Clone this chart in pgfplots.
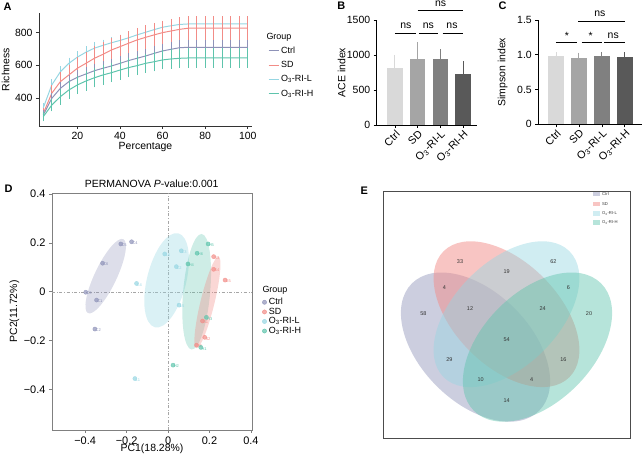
\documentclass[border=0pt]{standalone}
\usepackage{fontspec}
\setmainfont{Liberation Sans}
\usepackage{pgfplots}
\pgfplotsset{compat=1.18}
\usepackage{pgfplotstable}

\definecolor{cctrl}{RGB}{142,146,184}
\definecolor{csd}{RGB}{242,140,135}
\definecolor{cril}{RGB}{150,214,226}
\definecolor{crih}{RGB}{94,196,172}
\definecolor{b1}{RGB}{217,217,217}
\definecolor{b2}{RGB}{165,165,165}
\definecolor{b3}{RGB}{128,128,128}
\definecolor{b4}{RGB}{89,89,89}
\definecolor{axgray}{RGB}{128,128,128}

\newcommand{\fs}[1]{\fontsize{#1}{#1}\selectfont}
\newcommand{\Othree}{O\textsubscript{3}}

\pgfplotsset{
  myax/.style={scale only axis, anchor=south west,
    /pgf/number format/assume math mode=true,
    /pgf/number format/1000 sep={},
    tick label style={font=\fs{10.5}},
    label style={font=\fs{10.5}},
    tick align=outside, major tick length=3bp,
    clip=false},
}

\pgfplotstableread{
x ctrl ectrl sd esd ril eril rih erih
4 296 15 306 20 340 15 286 15
8 398 20 429 35 480 20 357 25
12 459 25 500 45 560 22 408 35
16 500 25 541 50 612 22 449 40
20 527 28 582 55 650 22 480 42
24 547 28 612 58 680 22 504 45
28 567 30 643 60 705 22 524 45
32 582 30 667 60 722 22 541 45
36 596 30 694 60 738 22 555 45
40 612 30 714 60 752 22 571 45
44 629 30 735 60 768 22 586 45
48 643 30 755 60 786 22 598 45
52 657 30 771 60 802 22 612 45
56 673 32 786 60 818 22 622 45
60 688 32 800 60 833 22 633 45
64 698 32 810 60 842 22 639 45
68 708 32 820 60 850 22 643 45
72 710 32 827 60 853 22 645 45
76 710 32 827 60 853 22 645 45
80 710 32 827 60 853 22 645 45
84 710 32 827 60 853 22 645 45
88 710 32 827 60 853 22 645 45
92 710 32 827 60 853 22 645 45
96 710 32 827 60 853 22 645 45
100 710 32 827 60 853 22 645 45
}\rarefy

\pgfplotstableread{
x y lab
-0.228 0.196 C5
-0.176 0.205 C4
-0.316 0.117 C6
-0.397 -0.002 C3
-0.345 -0.034 C1
-0.353 -0.153 C2
}\pcactrl
\pgfplotstableread{
x y lab
0.220 0.144 S3
0.220 0.092 S4
0.275 0.048 S5
0.166 -0.120 S1
0.177 -0.187 S2
0.137 -0.219 S6
}\pcasd
\pgfplotstableread{
x y lab
-0.152 0.034 L4
-0.016 0.155 L6
0.064 0.168 L3
0.040 0.103 L2
0.053 -0.055 L5
-0.160 -0.356 L1
}\pcaril
\pgfplotstableread{
x y lab
0.193 0.196 H5
0.140 0.158 H6
0.096 0.114 H4
0.185 -0.105 H3
0.158 -0.228 H1
0.024 -0.301 H2
}\pcarih

\begin{document}
\begin{tikzpicture}
\path[use as bounding box] (0,0) rectangle (644bp,454bp);

% panel letters
\node[font=\fs{11}\bfseries] at (7.5bp,447.5bp) {A};
\node[font=\fs{11}\bfseries] at (341.3bp,448.5bp) {B};
\node[font=\fs{11}\bfseries] at (502.5bp,448.5bp) {C};
\node[font=\fs{11}\bfseries] at (8.7bp,265.2bp) {D};
\node[font=\fs{11}\bfseries] at (364.2bp,263.5bp) {E};

% ---------------- A ----------------
\begin{axis}[myax, at={(39bp,328bp)}, width=213bp, height=113bp,
  xmin=2, xmax=102, ymin=229, ymax=920,
  axis x line*=bottom, axis y line*=left,
  axis line style={-, black!80, line width=0.7pt}, tick style={black!80, line width=0.7pt},
  xtick={20,40,60,80,100}, ytick={400,600,800},
  xlabel={Percentage}, ylabel={Richness},
  xlabel style={at={(axis description cs:0.5,-0.183)}, anchor=center},
  ylabel style={at={(axis description cs:-0.157,0.5)}, anchor=center},
  legend image code/.code={\draw[#1] (0bp,0bp) -- (10bp,0bp);},
  legend style={at={(axis description cs:1.075,0.72)}, anchor=north west, draw=none, fill=none,
    font=\fs{9}, row sep=2.5bp, inner sep=0pt},
  legend cell align=left,
]
\addplot[cril, line width=1pt, forget plot, error bars/.cd, y dir=both, y explicit,
  error bar style={line width=0.6pt}, error mark options={mark size=2.2bp, line width=0.6pt}]
  table[x=x, y=ril, y error=eril]{\rarefy};
\addplot[csd, line width=1pt, forget plot, error bars/.cd, y dir=both, y explicit,
  error bar style={line width=0.6pt}, error mark options={mark size=2.2bp, line width=0.6pt}]
  table[x=x, y=sd, y error=esd]{\rarefy};
\addplot[cctrl, line width=1pt, forget plot, error bars/.cd, y dir=both, y explicit,
  error bar style={line width=0.6pt}, error mark options={mark size=2.2bp, line width=0.6pt}]
  table[x=x, y=ctrl, y error=ectrl]{\rarefy};
\addplot[crih, line width=1pt, forget plot, error bars/.cd, y dir=both, y explicit,
  error bar style={line width=0.6pt}, error mark options={mark size=2.2bp, line width=0.6pt}]
  table[x=x, y=rih, y error=erih]{\rarefy};
\addlegendimage{cctrl, line width=1pt}\addlegendentry{Ctrl}
\addlegendimage{csd, line width=1pt}\addlegendentry{SD}
\addlegendimage{cril, line width=1pt}\addlegendentry{\Othree-RI-L}
\addlegendimage{crih, line width=1pt}\addlegendentry{\Othree-RI-H}
\end{axis}
\node[anchor=west, font=\fs{9}] at (263bp,417bp) {Group};

% ---------------- B ----------------
\begin{axis}[myax, at={(376.7bp,329bp)}, width=100bp, height=105bp,
  xmin=-0.806, xmax=3.6, ymin=0, ymax=1500,
  axis x line*=bottom, axis y line*=left,
  axis line style={-, black, line width=0.9pt}, tick style={black, line width=0.9pt},
  ytick={0,500,1000,1500}, xtick={0,1,2,3},
  xticklabels={Ctrl,SD,\Othree-RI-L,\Othree-RI-H},
  xticklabel style={rotate=45, anchor=north east, font=\fs{10.8}, inner sep=1pt},
  ylabel={ACE index},
  ylabel style={at={(axis description cs:-0.35,0.5)}, anchor=center},
  ybar, bar width=15.3bp,
]
\addplot[fill=b1, draw=none, bar shift=0pt, error bars/.cd, y dir=plus, y explicit,
  error bar style={draw=b1, line width=1pt}, error mark options={draw=b1, mark size=3.3bp, line width=1pt}]
  coordinates {(0,810) +- (0,143)};
\addplot[fill=b2, draw=none, bar shift=0pt, error bars/.cd, y dir=plus, y explicit,
  error bar style={draw=b2, line width=1pt}, error mark options={draw=b2, mark size=3.3bp, line width=1pt}]
  coordinates {(1,940) +- (0,200)};
\addplot[fill=b3, draw=none, bar shift=0pt, error bars/.cd, y dir=plus, y explicit,
  error bar style={draw=b3, line width=1pt}, error mark options={draw=b3, mark size=3.3bp, line width=1pt}]
  coordinates {(2,940) +- (0,95)};
\addplot[fill=b4, draw=none, bar shift=0pt, error bars/.cd, y dir=plus, y explicit,
  error bar style={draw=b4, line width=1pt}, error mark options={draw=b4, mark size=3.3bp, line width=1pt}]
  coordinates {(3,725) +- (0,140)};
\draw[line width=0.8pt] (axis cs:0,1310) -- (axis cs:0.93,1310);
\draw[line width=0.8pt] (axis cs:1.05,1310) -- (axis cs:1.9,1310);
\draw[line width=0.8pt] (axis cs:2.1,1310) -- (axis cs:3.0,1310);
\draw[line width=0.8pt] (axis cs:1.0,1633) -- (axis cs:3.0,1633);
\node[font=\fs{10.5}] at (axis cs:0.48,1414) {ns};
\node[font=\fs{10.5}] at (axis cs:1.47,1414) {ns};
\node[font=\fs{10.5}] at (axis cs:2.51,1414) {ns};
\node[font=\fs{10.5}] at (axis cs:2.01,1729) {ns};
\end{axis}

% ---------------- C ----------------
\begin{axis}[myax, at={(538.3bp,329.7bp)}, width=103.4bp, height=104.3bp,
  xmin=-0.77, xmax=3.73, ymin=0, ymax=1.5,
  axis x line*=bottom, axis y line*=left,
  axis line style={-, black, line width=0.9pt}, tick style={black, line width=0.9pt},
  ytick={0,0.5,1,1.5}, yticklabels={0,0.5,1.0,1.5}, xtick={0,1,2,3},
  xticklabels={Ctrl,SD,\Othree-RI-L,\Othree-RI-H},
  xticklabel style={rotate=45, anchor=north east, font=\fs{10.8}, inner sep=1pt},
  ylabel={Simpson index},
  ylabel style={at={(axis description cs:-0.344,0.5)}, anchor=center},
  ybar, bar width=16.5bp,
]
\addplot[fill=b1, draw=none, bar shift=0pt, error bars/.cd, y dir=plus, y explicit,
  error bar style={draw=b1, line width=1pt}, error mark options={draw=b1, mark size=3.3bp, line width=1pt}]
  coordinates {(0,0.985) +- (0,0.005)};
\addplot[fill=b2, draw=none, bar shift=0pt, error bars/.cd, y dir=plus, y explicit,
  error bar style={draw=b2, line width=1pt}, error mark options={draw=b2, mark size=3.3bp, line width=1pt}]
  coordinates {(1,0.96) +- (0,0.025)};
\addplot[fill=b3, draw=none, bar shift=0pt, error bars/.cd, y dir=plus, y explicit,
  error bar style={draw=b3, line width=1pt}, error mark options={draw=b3, mark size=3.3bp, line width=1pt}]
  coordinates {(2,0.983) +- (0,0.01)};
\addplot[fill=b4, draw=none, bar shift=0pt, error bars/.cd, y dir=plus, y explicit,
  error bar style={draw=b4, line width=1pt}, error mark options={draw=b4, mark size=3.3bp, line width=1pt}]
  coordinates {(3,0.968) +- (0,0.02)};
\draw[line width=0.8pt] (axis cs:0,1.172) -- (axis cs:0.93,1.172);
\draw[line width=0.8pt] (axis cs:1.12,1.172) -- (axis cs:1.99,1.172);
\draw[line width=0.8pt] (axis cs:2.09,1.172) -- (axis cs:3.0,1.172);
\draw[line width=0.8pt] (axis cs:0.96,1.48) -- (axis cs:3.0,1.48);
\node[font=\fs{10.5}] at (axis cs:0.47,1.27) {*};
\node[font=\fs{10.5}] at (axis cs:1.51,1.27) {*};
\node[font=\fs{10.5}] at (axis cs:2.49,1.269) {ns};
\node[font=\fs{10.5}] at (axis cs:1.91,1.595) {ns};
\end{axis}

% ---------------- D ----------------
\node[font=\fs{10.5}] at (151.7bp,270.7bp) {PERMANOVA \textit{P}-value:0.001};
\begin{axis}[myax, at={(52bp,24bp)}, width=200bp, height=237bp,
  xmin=-0.56, xmax=0.405, ymin=-0.567, ymax=0.405,
  axis line style={axgray, line width=0.8pt}, tick style={axgray, line width=0.8pt},
  xtick={-0.4,-0.2,0,0.2,0.4}, ytick={-0.4,-0.2,0,0.2,0.4},
  xticklabels={−0.4,−0.2,0,0.2,0.4}, yticklabels={−0.4,−0.2,0,0.2,0.4},
  tick label style={font=\fs{11}},
  xtick pos=bottom, ytick pos=left,
  xlabel={PC1(18.28\%)}, ylabel={PC2(11.72\%)},
  xlabel style={at={(axis description cs:0.5,-0.080)}, anchor=center},
  ylabel style={at={(axis description cs:-0.1875,0.5)}, anchor=center},
  legend image code/.code={\fill[#1] (2bp,0bp) circle[radius=2.1bp];},
  legend style={at={(axis description cs:1.05,0.565)}, anchor=north west, draw=none, fill=none,
    font=\fs{9}, row sep=-2.2bp, inner sep=0pt},
  legend cell align=left,
  point meta=explicit symbolic,
]
\addplot[gray!70, dash dot, line width=0.4pt, forget plot] coordinates {(0,-0.567) (0,0.405)};
\addplot[gray!70, dash dot, line width=0.4pt, forget plot] coordinates {(-0.56,0) (0.405,0)};
\fill[cctrl, fill opacity=0.3] (axis cs:-0.301,0.064) circle[x radius=41bp, y radius=11bp, rotate=64.5];
\fill[cril, fill opacity=0.35] (axis cs:-0.007,0.047) circle[x radius=48.4bp, y radius=19.6bp, rotate=76];
\fill[crih, fill opacity=0.3] (axis cs:0.138,0.0) circle[x radius=58bp, y radius=13.5bp, rotate=85];
\fill[csd, fill opacity=0.35] (axis cs:0.190,-0.044) circle[x radius=47.1bp, y radius=7bp, rotate=76.3];
\addplot[only marks, mark=*, mark size=2.1bp, color=cctrl, fill opacity=0.7, draw opacity=0.7, forget plot,
  nodes near coords, nodes near coords style={anchor=west, font=\fs{4}, text=cctrl, inner sep=0.6pt, yshift=-1.3bp, opacity=1}]
  table[x=x, y=y, meta=lab]{\pcactrl};
\addplot[only marks, mark=*, mark size=2.1bp, color=csd, fill opacity=0.7, draw opacity=0.7, forget plot,
  nodes near coords, nodes near coords style={anchor=west, font=\fs{4}, text=csd, inner sep=0.6pt, yshift=-1.3bp, opacity=1}]
  table[x=x, y=y, meta=lab]{\pcasd};
\addplot[only marks, mark=*, mark size=2.1bp, color=cril, fill opacity=0.7, draw opacity=0.7, forget plot,
  nodes near coords, nodes near coords style={anchor=west, font=\fs{4}, text=cril, inner sep=0.6pt, yshift=-1.3bp, opacity=1}]
  table[x=x, y=y, meta=lab]{\pcaril};
\addplot[only marks, mark=*, mark size=2.1bp, color=crih, fill opacity=0.7, draw opacity=0.7, forget plot,
  nodes near coords, nodes near coords style={anchor=west, font=\fs{4}, text=crih, inner sep=0.6pt, yshift=-1.3bp, opacity=1}]
  table[x=x, y=y, meta=lab]{\pcarih};
\addlegendimage{cctrl, fill opacity=0.7}\addlegendentry{Ctrl}
\addlegendimage{csd, fill opacity=0.7}\addlegendentry{SD}
\addlegendimage{cril, fill opacity=0.7}\addlegendentry{\Othree-RI-L}
\addlegendimage{crih, fill opacity=0.7}\addlegendentry{\Othree-RI-H}
\end{axis}
\node[anchor=west, font=\fs{9}] at (259bp,164bp) {Group};

% ---------------- E ----------------
\begin{axis}[myax, at={(383.3bp,15.7bp)}, width=246.7bp, height=247.3bp,
  xmin=383.3, xmax=630, ymin=15.7, ymax=263,
  xtick=\empty, ytick=\empty,
  axis line style={black!70, line width=0.9pt},
]
\fill[cctrl, fill opacity=0.45] (axis cs:475.5,106.9) circle[x radius=90bp, y radius=55bp, rotate=-45];
\fill[csd, fill opacity=0.5] (axis cs:506.5,139.8) circle[x radius=89bp, y radius=52bp, rotate=-45];
\fill[cril, fill opacity=0.45] (axis cs:506.5,139.8) circle[x radius=89bp, y radius=52bp, rotate=45];
\fill[crih, fill opacity=0.45] (axis cs:537.5,106.9) circle[x radius=90bp, y radius=55bp, rotate=45];
\begin{scope}[font=\fs{5.5}, text=black!80]
\node at (axis cs:460,192.3) {33};
\node at (axis cs:506.7,182.3) {19};
\node at (axis cs:553.3,192.3) {62};
\node at (axis cs:444.3,166.7) {4};
\node at (axis cs:568.3,166.7) {6};
\node at (axis cs:423.3,140.7) {58};
\node at (axis cs:470,145.7) {12};
\node at (axis cs:542.7,145.7) {24};
\node at (axis cs:589,140.7) {20};
\node at (axis cs:506.7,114.7) {54};
\node at (axis cs:449.3,94.7) {29};
\node at (axis cs:563.3,94.7) {16};
\node at (axis cs:480.7,74) {10};
\node at (axis cs:531.7,74) {4};
\node at (axis cs:506.7,53) {14};
\end{scope}
\fill[cctrl, fill opacity=0.45] (axis cs:593,257.6) rectangle (axis cs:600,261.8);
\fill[csd, fill opacity=0.5] (axis cs:593,248.0) rectangle (axis cs:600,252.2);
\fill[cril, fill opacity=0.45] (axis cs:593,238.4) rectangle (axis cs:600,242.6);
\fill[crih, fill opacity=0.45] (axis cs:593,229.4) rectangle (axis cs:600,233.6);
\begin{scope}[font=\fs{4.2}, text=black!80]
\node[anchor=west, inner sep=0pt] at (axis cs:602,259.7) {Ctrl};
\node[anchor=west, inner sep=0pt] at (axis cs:602,250.1) {SD};
\node[anchor=west, inner sep=0pt] at (axis cs:602,240.5) {\Othree-RI-L};
\node[anchor=west, inner sep=0pt] at (axis cs:602,231.5) {\Othree-RI-H};
\end{scope}
\end{axis}
\end{tikzpicture}
\end{document}
